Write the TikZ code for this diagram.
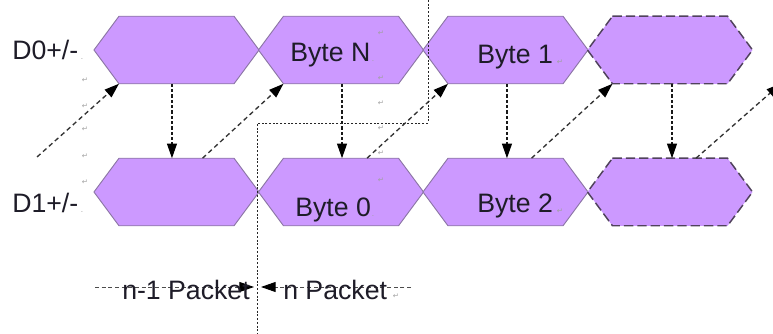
\documentclass[tikz,border=0pt]{standalone}
\usepackage{fontspec}
\setmainfont{Liberation Sans}
\newfontfamily\symfont{DejaVu Sans}
\usetikzlibrary{arrows.meta,calc}
\definecolor{hexfill}{RGB}{204,153,255}
\definecolor{hexline}{RGB}{140,118,165}
\definecolor{hexdash}{RGB}{80,66,92}
\definecolor{txt}{RGB}{30,28,40}
\definecolor{mark}{RGB}{160,160,160}
\tikzset{
  hexcore/.style={rectangle, minimum width=85.9pt, minimum height=50.25pt, inner sep=0pt},
  hexsolid/.style={fill=hexfill, draw=hexline, line width=0.7pt, line join=miter},
  hexdashed/.style={fill=hexfill, draw=hexdash, line width=1.1pt, dash pattern=on 7pt off 3pt},
  lab/.style={font=\fontsize{20}{24}\selectfont, text=txt, inner sep=0pt, anchor=base west},
  retmark/.style={font=\symfont\fontsize{5.5}{6}\selectfont, text=mark, inner sep=0pt},
  tip/.style={-{Triangle[length=11pt,width=7.5pt,black,fill=black]}},
  varrow/.style={tip, draw=black!90, line width=0.8pt, dash pattern=on 2.4pt off 1.6pt},
  darrow/.style={tip, draw=black!80, line width=1pt, dash pattern=on 3.5pt off 2.5pt},
  pline/.style={draw=black!85, line width=0.6pt, dash pattern=on 1.5pt off 1.3pt},
  parrow/.style={tip, draw=black!70, line width=0.7pt, dash pattern=on 3pt off 2pt},
}
\newcommand\mkhex[4]{%
  \node[hexcore] (#1) at (#2,#3) {};
  \draw[#4] (#1.north west) -- (#1.north east) -- ($(#1.east)+(25,0)$) -- (#1.south east) -- (#1.south west) -- ($(#1.west)+(-25,0)$) -- cycle;
}
\begin{document}
\begin{tikzpicture}[x=0.75pt,y=-0.75pt]
\useasboundingbox (0,0) rectangle (773,334);
\clip (0,0) rectangle (773,334);
% hexagons
\mkhex{t1}{176.5}{50}{hexsolid}
\mkhex{t2}{341}{50}{hexsolid}
\mkhex{t3}{505.5}{50}{hexsolid}
\mkhex{t4}{670}{50}{hexdashed}
\mkhex{b1}{176.5}{192}{hexsolid}
\mkhex{b2}{341}{192}{hexsolid}
\mkhex{b3}{505.5}{192}{hexsolid}
\mkhex{b4}{670}{192}{hexdashed}
% labels
\node[lab] (d0lab) at (12,60) {D0+/-};
\node[lab] (d1lab) at (12,213) {D1+/-};
\node[lab] (byN) at (290,62) {Byte N};
\node[lab] (by1) at (477,64) {Byte 1};
\node[lab] (by0) at (295,217) {Byte 0};
\node[lab] (by2) at (477,213) {Byte 2};
% vertical arrows
\draw[varrow] ([xshift=-3.4pt]t1.south) -- ([xshift=-3.4pt]b1.north);
\draw[varrow] ([xshift=0.75pt]t2.south) -- ([xshift=0.75pt]b2.north);
\draw[varrow] ([xshift=1.1pt]t3.south) -- ([xshift=1.1pt]b3.north);
\draw[varrow] ([xshift=1.5pt]t4.south) -- ([xshift=1.5pt]b4.north);
% diagonal arrows
\coordinate (ds) at (37,157);
\coordinate (de) at (781,83.5);
\draw[darrow] (ds) -- (t1.south west);
\draw[darrow] ([xshift=19.5pt]b1.north) -- (t2.south west);
\draw[darrow] ([xshift=19.5pt]b2.north) -- (t3.south west);
\draw[darrow] ([xshift=19.5pt]b3.north) -- (t4.south west);
\draw[darrow] ([xshift=19.5pt]b4.north) -- (de);
% packet boundary
\coordinate (p1) at (428,0);
\coordinate (p3) at (257,123);
\coordinate (p4) at (257,334);
\draw[pline] (p1) |- (p3) -- (p4);
% packet arrows
\coordinate (l0) at (95,287);
\coordinate (lc) at (254,287);
\coordinate (rc) at (261,287);
\coordinate (r0) at (411,287);
\draw[parrow] (l0) -- (lc);
\draw[parrow] (r0) -- (rc);
\node[lab] (np1) at (122,299) {n-1 Packet};
\node[lab] (np) at (283,299) {n Packet};
% formatting marks
\foreach \yy [count=\i] in {80,106,129,156,182} \node[retmark] (ma\i) at (85,\yy) {↵};
\foreach \yy [count=\i] in {33,78,103,128,153,180} \node[retmark] (mb\i) at (381,\yy) {↵};
\node[retmark] (m1) at (560,62) {↵};
\node[retmark] (m2) at (560,211) {↵};
\node[retmark] (m3) at (396,296) {↵};
\node[retmark] (m4) at (373,61) {.};
\node[retmark] (m5) at (373,216) {.};
\node[retmark] (m6) at (82,59) {.};
\node[retmark] (m7) at (82,212) {.};
\end{tikzpicture}
\end{document}
